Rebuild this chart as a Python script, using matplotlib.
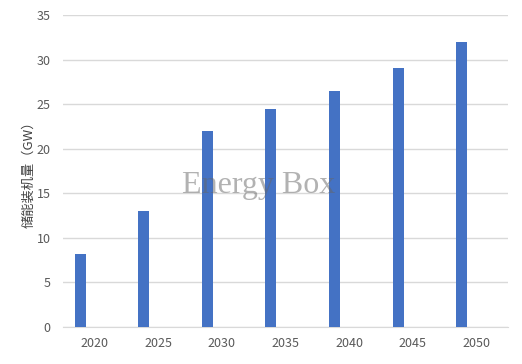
import matplotlib
matplotlib.use('Agg')
import matplotlib.pyplot as plt
import numpy as np

plt.rcParams['font.family'] = ['Noto Sans CJK SC', 'DejaVu Sans']

# data
years = ['2020', '2025', '2030', '2035', '2040', '2045', '2050']
capacity = [8.2, 13, 22, 24.5, 26.5, 29, 32]   # GW
yticks = [0, 5, 10, 15, 20, 25, 30, 35]

fig = plt.figure(figsize=(5.22, 3.64), dpi=100)
ax = fig.add_axes([0.1207, 0.1016, 0.8523, 0.8572])

x = np.arange(len(years))
ax.bar(x - 0.228, capacity, width=0.173, color='#4472C4', zorder=3)

ax.set_xlim(-0.5, len(years) - 0.5)
ax.set_ylim(0, 35)
ax.set_yticks(yticks)
ax.set_xticks(x)
ax.set_xticklabels(years)

ax.grid(axis='y', color='#d9d9d9', linewidth=1, zorder=0)
for s in ['top', 'right', 'left']:
    ax.spines[s].set_visible(False)
ax.spines['bottom'].set_color('#d9d9d9')
ax.tick_params(axis='both', length=0, colors='#595959', labelsize=9)
ax.tick_params(axis='y', pad=9)
ax.tick_params(axis='x', pad=7)

ax.set_ylabel('储能装机量（GW）', fontsize=9.5, color='#404040', labelpad=1)

# semi-transparent watermark over the bars
ax.text(0.496, 0.470, 'Energy Box', fontsize=23, color='#666666', alpha=0.5,
        family='Liberation Serif', ha='center', va='baseline',
        transform=fig.transFigure, zorder=5)

fig.savefig('out.png', dpi=100)
